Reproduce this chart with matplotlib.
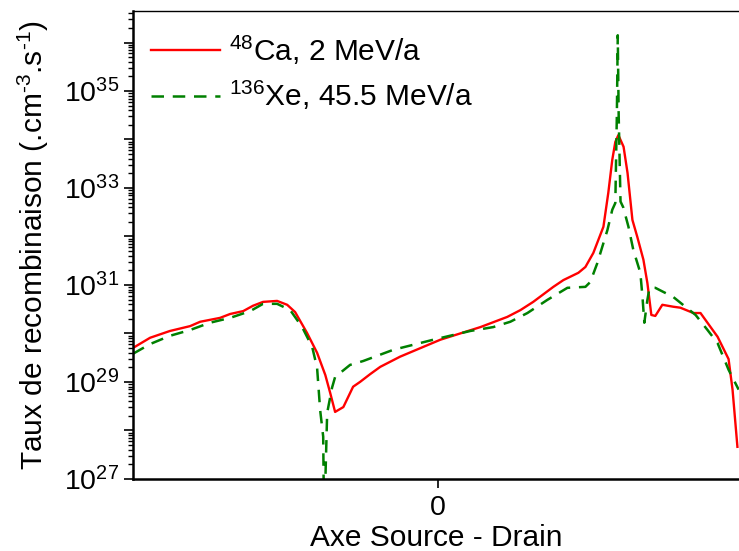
import numpy as np
import matplotlib.pyplot as plt
from matplotlib.ticker import LogLocator, FixedLocator, NullFormatter

plt.rcParams['font.family'] = ['Liberation Sans', 'DejaVu Sans']
plt.rcParams['mathtext.fontset'] = 'custom'
plt.rcParams['mathtext.rm'] = 'Liberation Sans'
plt.rcParams['mathtext.it'] = 'Liberation Sans'

# position along source-drain axis (arbitrary units, 0 = centre)
x_ca = [-1.000, -0.944, -0.879, -0.813, -0.780, -0.715, -0.682, -0.639, -0.607, -0.574,
        -0.528, -0.495, -0.469, -0.430, -0.397, -0.370, -0.354, -0.338, -0.311, -0.279,
        -0.256, -0.223, -0.190, -0.125, 0.007, 0.138, 0.226, 0.269, 0.311, 0.377,
        0.410, 0.459, 0.482, 0.508, 0.541, 0.557, 0.570, 0.580, 0.590, 0.607,
        0.620, 0.636, 0.652, 0.672, 0.685, 0.698, 0.711, 0.734, 0.770, 0.793,
        0.836, 0.859, 0.915, 0.951, 0.964, 0.980]
# log10 of recombination rate, 48Ca 2 MeV/a
log_ca = [29.70, 29.91, 30.05, 30.15, 30.24, 30.32, 30.40, 30.46, 30.57, 30.65,
          30.67, 30.59, 30.44, 30.01, 29.60, 29.14, 28.77, 28.38, 28.48, 28.90,
          29.00, 29.16, 29.31, 29.52, 29.87, 30.13, 30.34, 30.48, 30.65, 30.96,
          31.10, 31.25, 31.37, 31.66, 32.20, 32.90, 33.58, 33.95, 34.09, 33.85,
          33.31, 32.34, 31.99, 31.52, 31.04, 30.38, 30.36, 30.59, 30.55, 30.53,
          30.42, 30.42, 29.93, 29.47, 28.84, 27.66]

x_xe = [-1.000, -0.944, -0.879, -0.813, -0.748, -0.682, -0.616, -0.574, -0.528, -0.485,
        -0.446, -0.413, -0.397, -0.387, -0.377, -0.374, -0.364, -0.348, -0.338, -0.289,
        -0.246, -0.148, -0.016, 0.105, 0.180, 0.236, 0.292, 0.357, 0.423, 0.482,
        0.498, 0.521, 0.554, 0.570, 0.580, 0.585, 0.588, 0.591, 0.597, 0.606,
        0.623, 0.639, 0.662, 0.669, 0.675, 0.685, 0.692, 0.711, 0.770, 0.843,
        0.882, 0.915, 0.951, 0.984]
# log10 of recombination rate, 136Xe 45.5 MeV/a
log_xe = [29.58, 29.78, 29.95, 30.07, 30.22, 30.32, 30.46, 30.61, 30.61, 30.48,
          30.13, 29.72, 29.29, 28.42, 27.87, 26.00, 28.36, 28.88, 29.10, 29.35,
          29.43, 29.66, 29.87, 30.05, 30.13, 30.24, 30.42, 30.69, 30.94, 30.96,
          31.06, 31.45, 32.13, 32.55, 32.69, 34.5, 36.15, 34.5, 32.72, 32.60,
          32.20, 31.72, 31.25, 30.75, 30.22, 30.69, 30.94, 30.94, 30.75, 30.38,
          30.07, 29.80, 29.25, 28.84]

fig = plt.figure(figsize=(7.39, 5.51), dpi=100)
ax = fig.add_axes([0.18, 0.131, 0.822, 0.849])

ax.plot(x_ca, 10 ** np.array(log_ca), color='red', lw=1.7, label='$^{48}$Ca, 2 MeV/a')
ax.plot(x_xe, 10 ** np.array(log_xe), color='green', lw=1.8, ls=(0, (5, 3.5)),
        label='$^{136}$Xe, 45.5 MeV/a')

ax.set_yscale('log')
ax.set_ylim(1e27, 10 ** 36.65)
ax.set_xlim(-1.0, 0.99)

ax.yaxis.set_major_locator(FixedLocator([10.0 ** k for k in range(27, 37)]))
ax.yaxis.set_minor_locator(LogLocator(base=10, subs=np.arange(2, 10), numticks=30))
ax.yaxis.set_minor_formatter(NullFormatter())
ax.set_yticklabels(['$10^{%d}$' % k if k % 2 == 1 else '' for k in range(27, 37)])
ax.set_xticks([0])
ax.set_xticklabels(['0'])

ax.tick_params(axis='both', which='major', direction='out', length=6.5, width=1.2, labelsize=20.5)
ax.tick_params(axis='x', pad=5)
ax.tick_params(axis='y', which='minor', direction='out', length=3.5, width=1)
for s in ['left', 'bottom']:
    ax.spines[s].set_linewidth(1.8)
ax.spines['top'].set_linewidth(1.0)
ax.spines['right'].set_visible(False)

ax.set_xlabel('Axe Source - Drain', fontsize=21.5, labelpad=2)
ax.set_ylabel(r'Taux de recombinaison (.cm$^{\text{-3}}$.s$^{\text{-1}}$)', fontsize=21.5, labelpad=9)

ax.legend(loc='upper left', bbox_to_anchor=(0.0, 0.99), frameon=False, fontsize=21.5,
          handlelength=2.3, handletextpad=0.3, borderaxespad=0.3, labelspacing=0.4,
          borderpad=0.3)

fig.savefig('out.png', dpi=100)
